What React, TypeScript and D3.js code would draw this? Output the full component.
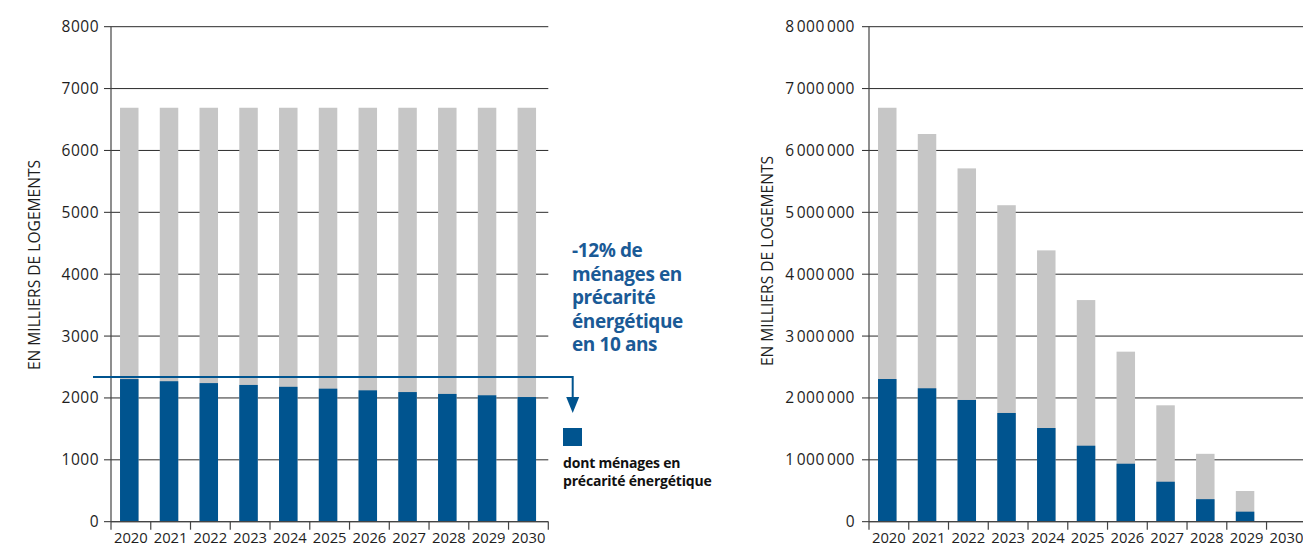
import React from 'react';
import * as d3 from 'd3';

const years = ['2020', '2021', '2022', '2023', '2024', '2025', '2026', '2027', '2028', '2029', '2030'];

// left panel (en milliers)
const leftTotal = [6690, 6690, 6690, 6690, 6690, 6690, 6690, 6690, 6690, 6690, 6690];
const leftPrecarite = [2305, 2270, 2240, 2210, 2180, 2150, 2123, 2095, 2065, 2043, 2015];
const leftTicks = [0, 1000, 2000, 3000, 4000, 5000, 6000, 7000, 8000];

// right panel
const rightTotal = [6690000, 6266000, 5710000, 5115000, 4385000, 3582000, 2748000, 1881000, 1097000, 496000, 0];
const rightPrecarite = [2306000, 2156000, 1967000, 1757000, 1514000, 1228000, 937000, 646000, 364000, 162000, 0];
const rightTicks = [0, 1000000, 2000000, 3000000, 4000000, 5000000, 6000000, 7000000, 8000000];

const annotationLines = ['-12% de', 'ménages en', 'précarité', 'énergétique', 'en 10 ans'];
const legendLines = ['dont ménages en', 'précarité énergétique'];
const yLabel = 'EN MILLIERS DE LOGEMENTS';

const GRAY = '#c6c6c6';
const BLUE = '#00548f';
const TEXT_BLUE = '#1a5a96';
const FONT = "'Open Sans', sans-serif";

const TOP = 26.7;
const BOTTOM = 521.7;

const spaced = d3.formatLocale({ decimal: ',', thousands: '\u200A', grouping: [3], currency: ['', '€'] }).format(',d');

interface PanelProps {
  x0: number;
  width: number;
  total: number[];
  part: number[];
  ticks: number[];
  max: number;
  fmt: (v: number) => string;
  labelX: number;
  labelY: number;
  tickLabelGap: number;
  gridEnd: number;
}

const Panel: React.FC<PanelProps> = ({ x0, width, total, part, ticks, max, fmt, labelX, labelY, tickLabelGap, gridEnd }) => {
  const x = d3.scaleBand<string>().domain(years).range([x0, x0 + width]).padding(0);
  const y = d3.scaleLinear().domain([0, max]).range([BOTTOM, TOP]);
  const bw = x.bandwidth() * 0.465;
  const off = x.bandwidth() * 0.227;

  return (
    <g>
      {ticks.map(t => (
        <g key={t}>
          <line x1={x0 - 7} x2={gridEnd} y1={y(t)} y2={y(t)} stroke="#2b2b2b" strokeWidth={1} />
          <text
            x={x0 - 7 - tickLabelGap}
            y={y(t)}
            dy="0.35em"
            textAnchor="end"
            fontFamily={FONT}
            fontSize={15.5}
            letterSpacing={0.5}
            fill="#1e1e1e"
          >
            {fmt(t)}
          </text>
        </g>
      ))}
      {years.map((yr, i) => (
        <g key={yr}>
          {total[i] > 0 && (
            <rect x={(x(yr) ?? 0) + off} width={bw} y={y(total[i])} height={BOTTOM - y(total[i])} fill={GRAY} />
          )}
          {part[i] > 0 && (
            <rect x={(x(yr) ?? 0) + off} width={bw} y={y(part[i])} height={BOTTOM - y(part[i])} fill={BLUE} />
          )}
        </g>
      ))}
      <line x1={x0} x2={x0} y1={TOP} y2={BOTTOM + 8} stroke="#444" strokeWidth={1.2} />
      <line x1={x0} x2={x0 + width} y1={BOTTOM} y2={BOTTOM} stroke="#444" strokeWidth={1.2} />
      {years.map(yr => (
        <g key={'t' + yr}>
          <line x1={(x(yr) ?? 0) + x.bandwidth()} x2={(x(yr) ?? 0) + x.bandwidth()} y1={BOTTOM} y2={BOTTOM + 8} stroke="#444" strokeWidth={1.2} />
          <text
            x={(x(yr) ?? 0) + x.bandwidth() / 2}
            y={542.5}
            textAnchor="middle"
            fontFamily={FONT}
            fontSize={14.8}
            fill="#1e1e1e"
          >
            {yr}
          </text>
        </g>
      ))}
      <text
        transform={`translate(${labelX},${labelY}) rotate(-90)`}
        textAnchor="middle"
        dy="0.35em"
        fontFamily={FONT}
        fontSize={15.6}
        fill="#1e1e1e"
      >
        {yLabel}
      </text>
    </g>
  );
};

export default function App() {
  const yl = d3.scaleLinear().domain([0, 8000]).range([BOTTOM, TOP]);
  const arrowY = yl(2340);
  const arrowX = 572.7;

  return (
    <svg
      width={1303}
      height={545}
      style={{ position: 'absolute', left: 0, top: 0, background: '#fff' }}
    >
      <Panel
        x0={111}
        width={437.3}
        total={leftTotal}
        part={leftPrecarite}
        ticks={leftTicks}
        max={8000}
        fmt={d => String(d)}
        labelX={35}
        labelY={265}
        tickLabelGap={5}
        gridEnd={548.3}
      />
      <Panel
        x0={869}
        width={437.3}
        total={rightTotal}
        part={rightPrecarite}
        ticks={rightTicks}
        max={8000000}
        fmt={d => spaced(d)}
        labelX={768}
        labelY={261}
        tickLabelGap={7}
        gridEnd={1303}
      />
      {/* annotation arrow */}
      <path
        d={`M93,${arrowY} H${arrowX} V398`}
        fill="none"
        stroke={BLUE}
        strokeWidth={2}
      />
      <path d={`M${arrowX - 6.5},397 L${arrowX + 6.5},397 L${arrowX},413 Z`} fill={BLUE} />
      {annotationLines.map((t, i) => (
        <text
          key={t}
          x={572}
          y={257 + i * 23.5}
          fontFamily={FONT}
          fontWeight={700}
          fontSize={19}
          letterSpacing={-0.4}
          fill={TEXT_BLUE}
        >
          {t}
        </text>
      ))}
      <rect x={563} y={428} width={19} height={18} fill={BLUE} />
      {legendLines.map((t, i) => (
        <text
          key={t}
          x={563}
          y={468 + i * 17.7}
          fontFamily={FONT}
          fontWeight={700}
          fontSize={14}
          letterSpacing={-0.2}
          fill="#111"
        >
          {t}
        </text>
      ))}
    </svg>
  );
}
